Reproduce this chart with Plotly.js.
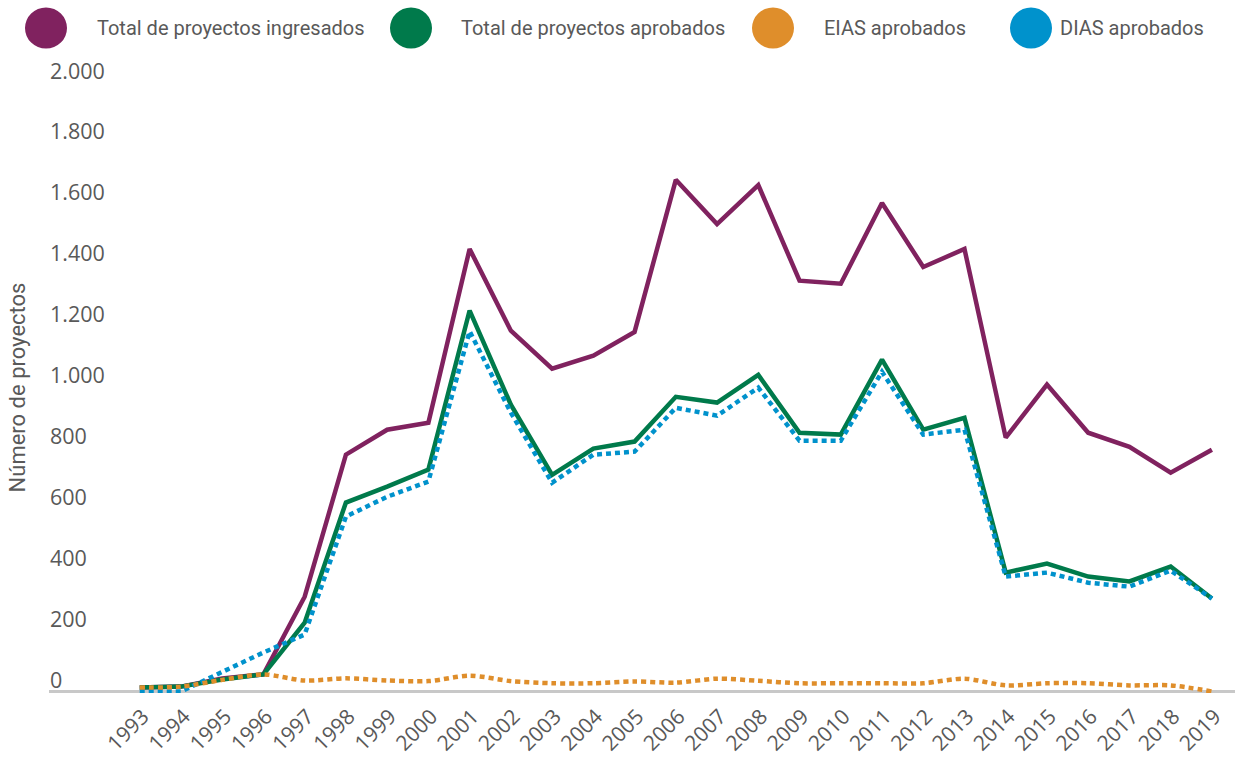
<!DOCTYPE html>
<html>
<head>
<meta charset="utf-8">
<script src="https://cdn.plot.ly/plotly-3.0.1.min.js"></script>
<style>html,body{margin:0;padding:0;background:#fff;}#chart{width:1241px;height:757px;}</style>
</head>
<body>
<div id="chart"></div>
<script>
// ---- data ----
const years = [1993,1994,1995,1996,1997,1998,1999,2000,2001,2002,2003,2004,2005,2006,2007,2008,2009,2010,2011,2012,2013,2014,2015,2016,2017,2018,2019];
const yearLabels = years.map(String);
const ingresados = [13,16,43,56,311,777,859,882,1452,1184,1059,1102,1180,1679,1534,1662,1348,1338,1603,1393,1452,833,1007,849,803,718,793];
const aprobados = [13,16,39,56,226,620,672,728,1250,941,711,797,820,967,948,1039,849,843,1089,859,898,390,420,377,361,410,305];
const eias = [13,16,38,56,36,43,36,34,52,34,27,27,33,29,42,35,27,27,27,27,42,20,27,27,20,20,0];
const dias = [0,0,64,128,187,574,639,689,1182,915,685,777,787,931,905,997,823,823,1049,843,859,377,390,357,344,397,305];
const seriesNames = ["Total de proyectos ingresados","Total de proyectos aprobados","EIAS aprobados","DIAS aprobados"];
const seriesColors = ["#80225F","#007A4B","#DF8E2B","#0092CC"];
const yTickVals = [0,200,400,600,800,1000,1200,1400,1600,1800,2000];
const yTickText = ["0","200","400","600","800","1.000","1.200","1.400","1.600","1.800","2.000"];

// ---- geometry (pixels) ----
const W = 1241, H = 757;
const mL = 49, mR = 6, mT = 82, mB = 63.5;
const plotW = W - mL - mR, plotH = H - mT - mB;
const TXT = "#595959";
const condensed = "Roboto, 'Noto Sans', sans-serif";
const tickFont = "'Open Sans', 'Noto Sans', sans-serif";

const traces = [
  {x: years, y: ingresados, name: seriesNames[0], mode: "lines", line: {color: seriesColors[0], width: 4.5}},
  {x: years, y: aprobados, name: seriesNames[1], mode: "lines", line: {color: seriesColors[1], width: 4.5}},
  {x: years, y: dias, name: seriesNames[3], mode: "lines", line: {color: seriesColors[3], width: 4.5, dash: "5px,4px"}},
  {x: years, y: eias, name: seriesNames[2], mode: "lines", line: {color: seriesColors[2], width: 4.5, dash: "5px,4px", shape: "spline", smoothing: 0.8}}
].map(t => Object.assign(t, {showlegend: false, hoverinfo: "skip"}));

// custom legend: large circles + text
const legendCenters = [46, 411, 773, 1031];
const legendTextX = [95, 459, 822, 1058];
const legendY = 28;
const px2paperX = p => (p - mL) / plotW;
const px2paperY = p => (H - mB - p) / plotH;
const shapes = [];
const annotations = [];
seriesNames.forEach((n, i) => {
  shapes.push({
    type: "circle", xref: "paper", yref: "paper",
    xsizemode: "pixel", ysizemode: "pixel",
    xanchor: px2paperX(legendCenters[i]), yanchor: px2paperY(legendY),
    x0: -21, x1: 21, y0: -20.5, y1: 20.5,
    fillcolor: seriesColors[i], line: {width: 0}
  });
  annotations.push({
    xref: "paper", yref: "paper",
    x: px2paperX(legendTextX[i]), y: px2paperY(legendY),
    xanchor: "left", yanchor: "middle", showarrow: false,
    text: n, font: {family: condensed, size: 20, color: TXT}
  });
});

const layout = {
  width: W, height: H,
  margin: {l: mL, r: mR, t: mT, b: mB, pad: 0},
  paper_bgcolor: "#fff", plot_bgcolor: "#fff",
  showlegend: false,
  xaxis: {
    range: [1990.8, 2019.56],
    tickmode: "array", tickvals: years, ticktext: yearLabels,
    tickangle: -45, showgrid: false, zeroline: false, showline: false,
    ticks: "", tickfont: {family: tickFont, size: 21, color: TXT},
    ticklabelstandoff: 6, ticklabelshift: 3,
    automargin: false, fixedrange: true
  },
  yaxis: {
    range: [-5, 2000],
    tickmode: "array", tickvals: yTickVals, ticktext: yTickText,
    ticklabelposition: "inside", ticklabelshift: -11, ticklabelstandoff: -2,
    ticklabeloverflow: "allow",
    showgrid: false, showline: false, ticks: "",
    zeroline: true, zerolinecolor: "#C8C8C8", zerolinewidth: 3,
    tickfont: {family: tickFont, size: 21.5, color: TXT},
    title: {text: "Número de proyectos", font: {family: condensed, size: 22, color: TXT}, standoff: 18},
    automargin: false, fixedrange: true
  },
  shapes: shapes,
  annotations: annotations
};

Plotly.newPlot("chart", traces, layout, {staticPlot: true, displayModeBar: false});
</script>
</body>
</html>
